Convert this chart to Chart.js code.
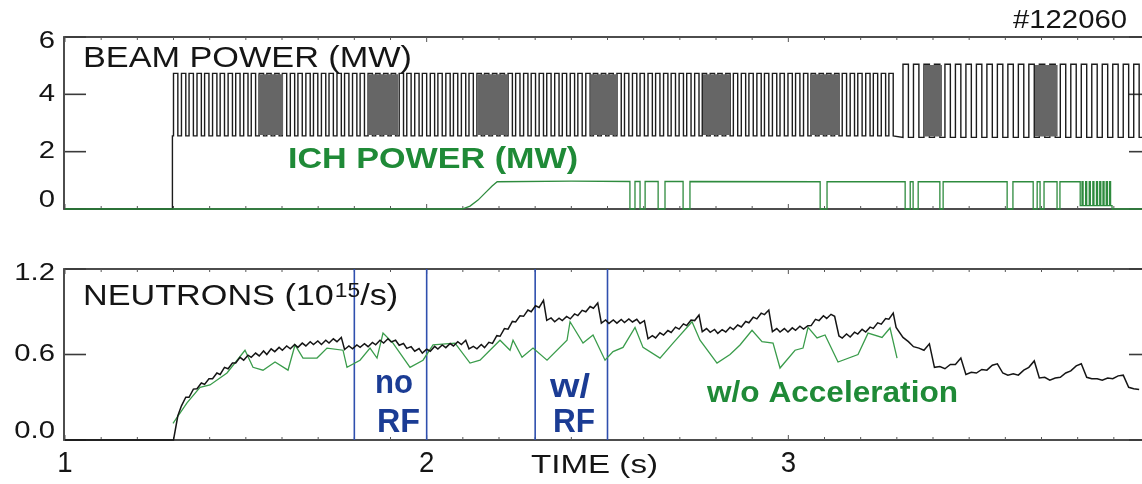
<!DOCTYPE html>
<html>
<head>
<meta charset="utf-8">
<script src="https://cdn.jsdelivr.net/npm/chart.js@4.4.1/dist/chart.umd.min.js"></script>
<style>
  html, body { margin: 0; padding: 0; background: #fff; overflow: hidden; width: 1142px; height: 484px; }
  #wrap { position: relative; width: 1142px; height: 484px; overflow: hidden; }
  canvas { position: absolute; left: 0; }
  #powerCanvas { top: 0; }
  #neutronCanvas { top: 240px; }
</style>
</head>
<body>
<div id="wrap">
  <canvas id="powerCanvas" width="1160" height="240"></canvas>
  <canvas id="neutronCanvas" width="1160" height="244"></canvas>
</div>
<script>
// ---------------- data ----------------
const shotLabel = '#122060';
const timeRange = [1, 4];
const timeTicks = [1, 2, 3, 4];
const powerTicks = [0, 2, 4, 6];
const powerTickLabels = ['0', '2', '4', '6'];
const neutronTicks = [0, 0.6, 1.2];
const neutronTickLabels = ['0.0', '0.6', '1.2'];

// Neutral beam: switch-on time, modulated pulses (rising edges, s), pulse width and levels (MW)
const beamStart = 1.297;
const beamOn1 = [
  1.300, 1.322, 1.343, 1.365, 1.386, 1.408, 1.429, 1.451, 1.472, 1.494,
  1.515, 1.537, 1.558, 1.580, 1.601, 1.623, 1.644, 1.666, 1.687, 1.709,
  1.730, 1.752, 1.773, 1.795, 1.816, 1.838, 1.859, 1.881, 1.902, 1.924,
  1.945, 1.967, 1.988, 2.010, 2.031, 2.053, 2.074, 2.096, 2.117, 2.139,
  2.160, 2.182, 2.203, 2.225, 2.246, 2.268, 2.289, 2.311, 2.332, 2.354,
  2.375, 2.397, 2.418, 2.440, 2.461, 2.483, 2.504, 2.526, 2.547, 2.569,
  2.590, 2.612, 2.633, 2.655, 2.676, 2.698, 2.719, 2.741, 2.762, 2.784,
  2.805, 2.827, 2.848, 2.870, 2.891, 2.913, 2.934, 2.956, 2.977, 2.999,
  3.020, 3.042, 3.063, 3.085, 3.106, 3.128, 3.149, 3.171, 3.192, 3.214,
  3.235, 3.257, 3.278
];
const beamWidth1 = 0.012;
const beamLevels1 = [2.55, 4.73];
const beamOn2 = [
  3.317, 3.346, 3.375, 3.404, 3.433, 3.462, 3.491, 3.520, 3.549, 3.578,
  3.607, 3.636, 3.665, 3.694, 3.723, 3.752, 3.781, 3.810, 3.839, 3.868,
  3.897, 3.926, 3.955
];
const beamWidth2 = 0.015;
const beamLevels2 = [2.5, 5.05];
const beamEnd = 3.99;
// intervals where the beam switching is too fast to resolve
const beamDense1 = [[1.534, 1.603], [1.838, 1.921], [2.142, 2.225], [2.452, 2.529], [2.764, 2.839], [3.060, 3.143]];
const beamDense2 = [[3.374, 3.425], [3.682, 3.745]];

// ICH power (MW)
const ichTime = [
  1.000, 2.098, 2.120, 2.142, 2.164, 2.181, 2.195, 2.400, 2.562,
  2.562, 2.576, 2.576,
  2.590, 2.590, 2.604, 2.604,
  2.640, 2.640, 2.659, 2.659,
  2.709, 2.709, 2.728, 2.728,
  3.088, 3.088, 3.107, 3.107,
  3.323, 3.323, 3.337, 3.337,
  3.345, 3.345, 3.359, 3.359,
  3.419, 3.419, 3.428, 3.428,
  3.605, 3.605, 3.621, 3.621,
  3.677, 3.677, 3.688, 3.688,
  3.696, 3.696, 3.707, 3.707,
  3.743, 3.743, 3.751, 3.751,
  3.807, 3.807,
  3.812, 3.812, 3.815, 3.815,
  3.822, 3.822, 3.825, 3.825,
  3.832, 3.832, 3.835, 3.835,
  3.842, 3.842, 3.845, 3.845,
  3.852, 3.852, 3.855, 3.855,
  3.861, 3.861, 3.864, 3.864,
  3.870, 3.870, 3.873, 3.873,
  3.879, 3.879, 3.882, 3.882,
  3.888, 3.888, 3.891, 3.891,
  3.895, 3.895, 3.990
];
const ichValue = [
  0, 0, 0.10, 0.31, 0.59, 0.80, 0.95, 0.97, 0.96,
  0, 0, 0.96,
  0.96, 0, 0, 0.96,
  0.96, 0, 0, 0.96,
  0.96, 0, 0, 0.96,
  0.95, 0, 0, 0.95,
  0.95, 0, 0, 0.95,
  0.95, 0, 0, 0.95,
  0.95, 0, 0, 0.95,
  0.95, 0, 0, 0.95,
  0.95, 0, 0, 0.95,
  0.95, 0, 0, 0.95,
  0.95, 0, 0, 0.95,
  0.95, 0.12,
  0.12, 0.95, 0.95, 0.12,
  0.12, 0.95, 0.95, 0.12,
  0.12, 0.95, 0.95, 0.12,
  0.12, 0.95, 0.95, 0.12,
  0.12, 0.95, 0.95, 0.12,
  0.12, 0.95, 0.95, 0.12,
  0.12, 0.95, 0.95, 0.12,
  0.12, 0.95, 0.95, 0.12,
  0.12, 0.95, 0.95, 0.12,
  0.12, 0, 0
];

// Measured neutron rate (1e15/s), sampled at each beam switch-on / switch-off
const neutronBefore = 0;
const neutron1 = [
  0.00, 0.17,  0.24, 0.30,  0.30, 0.357, 0.36, 0.40,  0.39, 0.43,
  0.43, 0.47,  0.46, 0.51,  0.50, 0.54,  0.54, 0.58,  0.56, 0.595,
  0.58, 0.61,  0.59, 0.625, 0.60, 0.64,  0.62, 0.65,  0.63, 0.66,
  0.64, 0.67,  0.65, 0.68,  0.66, 0.69,  0.67, 0.695, 0.67, 0.70,
  0.68, 0.71,  0.69, 0.72,  0.635, 0.66, 0.64, 0.667, 0.65, 0.676,
  0.655, 0.685, 0.668, 0.70, 0.68, 0.71, 0.688, 0.70, 0.665, 0.677,
  0.643, 0.655, 0.623, 0.642, 0.61, 0.637, 0.623, 0.657, 0.638, 0.667,
  0.648, 0.677, 0.66, 0.69, 0.67, 0.70,  0.64, 0.657, 0.64, 0.67,
  0.648, 0.685, 0.678, 0.732, 0.728, 0.782, 0.778, 0.832, 0.828, 0.872,
  0.868, 0.912, 0.90, 0.942, 0.93, 0.98,  0.84, 0.857, 0.83, 0.855,
  0.838, 0.867, 0.85, 0.885, 0.873, 0.91, 0.90, 0.937, 0.925, 0.962,
  0.82, 0.842, 0.818, 0.842, 0.82, 0.846, 0.824, 0.85, 0.828, 0.847,
  0.818, 0.837, 0.71, 0.732, 0.716, 0.752, 0.736, 0.768, 0.755, 0.792,
  0.778, 0.815, 0.803, 0.842, 0.838, 0.877, 0.76, 0.782, 0.756, 0.776,
  0.748, 0.774, 0.758, 0.792, 0.775, 0.807, 0.793, 0.832, 0.823, 0.862,
  0.85, 0.89,  0.88, 0.912, 0.76, 0.782, 0.758, 0.782, 0.758, 0.787,
  0.77, 0.798, 0.778, 0.802, 0.803, 0.847, 0.838, 0.872, 0.853, 0.882,
  0.868, 0.73, 0.715, 0.744, 0.723, 0.757, 0.743, 0.777, 0.758, 0.792,
  0.783, 0.822, 0.813, 0.852, 0.848, 0.89
];
const neutronAfterStep = [3.298, 0.79];
const neutron2 = [
  0.72, 0.69,  0.655, 0.645, 0.63, 0.675, 0.51, 0.515, 0.50, 0.53,
  0.53, 0.575, 0.46, 0.475, 0.47, 0.495, 0.49, 0.525, 0.535, 0.47,
  0.455, 0.465, 0.455, 0.49, 0.51, 0.555, 0.435, 0.44, 0.42, 0.435,
  0.44, 0.47, 0.485, 0.52, 0.535, 0.44, 0.43, 0.43, 0.42, 0.435,
  0.43, 0.45, 0.455, 0.37, 0.36, 0.355
];

// Simulated neutron rate without fast-ion acceleration
const noAccTime = [
  1.2986, 1.3373, 1.3733, 1.4009, 1.4479, 1.4977, 1.5198, 1.5475, 1.5807, 1.6166,
  1.6360, 1.6581, 1.6968, 1.7245, 1.7687, 1.7797, 1.8157, 1.8434, 1.8627, 1.8793,
  1.9069, 1.9540, 1.9899, 2.0176, 2.0784, 2.1199, 2.1475, 2.2028, 2.2305, 2.2388,
  2.2637, 2.2941, 2.3328, 2.3881, 2.3964, 2.4323, 2.4600, 2.4932, 2.5153, 2.5429,
  2.5761, 2.5982, 2.6452, 2.6812, 2.7337, 2.7558, 2.8028, 2.8388, 2.8664, 2.8996,
  2.9272, 2.9577, 2.9770, 3.0185, 3.0406, 3.0545, 3.0794, 3.1015, 3.1374, 3.1927,
  3.2204, 3.2591, 3.2812, 3.3006
];
const noAccValue = [
  0.117, 0.26, 0.37, 0.386, 0.47, 0.63, 0.51, 0.49, 0.547, 0.49,
  0.667, 0.575, 0.575, 0.645, 0.63, 0.51, 0.56, 0.645, 0.575, 0.75,
  0.68, 0.51, 0.56, 0.667, 0.68, 0.54, 0.56, 0.70, 0.63, 0.70,
  0.58, 0.645, 0.56, 0.70, 0.83, 0.68, 0.737, 0.56, 0.62, 0.65,
  0.79, 0.65, 0.575, 0.68, 0.83, 0.70, 0.54, 0.60, 0.667, 0.77,
  0.69, 0.68, 0.505, 0.63, 0.645, 0.79, 0.716, 0.737, 0.547, 0.60,
  0.75, 0.72, 0.786, 0.575
];

// RF on/off comparison windows (s)
const rfMarks = [1.8, 2.0, 2.3, 2.5];

// ---------------- styling ----------------
const FONT = '"Liberation Sans", Arial, Helvetica, sans-serif';
const INK = '#151515';
const FRAME = '#3a3a3a';
const GREEN_LINE = '#2e8b3e';
const GREEN_TEXT = '#1f8a37';
const GREEN_SIM = '#3a9c4b';
const BLUE_LINE = '#2f4fae';
const BLUE_TEXT = '#1b3c94';
const DENSE_GRAY = '#666666';

// ---------------- series builders ----------------
function beamPoints() {
  const pts = [{ x: timeRange[0], y: 0 }, { x: beamStart, y: 0 }, { x: beamStart, y: beamLevels1[0] }];
  const addPulses = (ons, width, levels) => {
    ons.forEach(t => {
      pts.push({ x: t, y: levels[0] }, { x: t, y: levels[1] },
               { x: t + width, y: levels[1] }, { x: t + width, y: levels[0] });
    });
  };
  addPulses(beamOn1, beamWidth1, beamLevels1);
  addPulses(beamOn2, beamWidth2, beamLevels2);
  pts.push({ x: beamEnd, y: beamLevels2[0] });
  return pts;
}

function neutronPoints() {
  const pts = [{ x: timeRange[0], y: neutronBefore }];
  beamOn1.forEach((t, k) => {
    pts.push({ x: t, y: neutron1[2 * k] }, { x: t + beamWidth1, y: neutron1[2 * k + 1] });
  });
  pts.push({ x: neutronAfterStep[0], y: neutronAfterStep[1] });
  beamOn2.forEach((t, k) => {
    pts.push({ x: t, y: neutron2[2 * k] }, { x: t + beamWidth2, y: neutron2[2 * k + 1] });
  });
  return pts;
}

const zip = (xs, ys) => xs.map((x, i) => ({ x, y: ys[i] }));

function denseDatasets(windows, levels) {
  return windows.map(w => ({
    data: [{ x: w[0], y: levels[1] - 0.03 }, { x: w[1], y: levels[1] - 0.03 }],
    borderWidth: 0,
    backgroundColor: DENSE_GRAY,
    fill: { value: levels[0] + 0.03 },
    clip: false
  }));
}

// ---------------- drawing helpers ----------------
function stretchText(ctx, str, x, y, font, color, opts) {
  ctx.save();
  ctx.font = font;
  ctx.fillStyle = color;
  ctx.textBaseline = opts.baseline || 'alphabetic';
  ctx.textAlign = 'left';
  const natural = ctx.measureText(str).width;
  const sx = opts.width ? opts.width / natural : (opts.sx || 1);
  const w = natural * sx;
  const left = opts.align === 'right' ? x - w : opts.align === 'center' ? x - w / 2 : x;
  ctx.translate(left, y);
  ctx.scale(sx, 1);
  ctx.fillText(str, 0, 0);
  ctx.restore();
  return left + w;
}

function seg(ctx, x1, y1, x2, y2) {
  ctx.beginPath(); ctx.moveTo(x1, y1); ctx.lineTo(x2, y2); ctx.stroke();
}

function drawFrame(chart, yTicks) {
  const { ctx, chartArea: a, scales: { x, y } } = chart;
  ctx.save();
  ctx.strokeStyle = FRAME;
  ctx.lineWidth = 1.8;
  ctx.strokeRect(a.left - 1, a.top, a.right - a.left + 1, a.bottom - a.top);
  ctx.lineWidth = 1.6;
  yTicks.forEach(v => {
    const py = y.getPixelForValue(v);
    seg(ctx, a.left, py, a.left + 21, py);
    seg(ctx, a.right - 21, py, a.right, py);
  });
  ctx.lineWidth = 1;
  ctx.strokeStyle = '#555';
  for (let i = timeRange[0] * 10; i <= timeRange[1] * 10; i++) {
    const px = x.getPixelForValue(i / 10);
    const len = i % 10 === 0 ? 5 : 3;
    seg(ctx, px, a.top, px, a.top + len);
    seg(ctx, px, a.bottom, px, a.bottom - len);
  }
  ctx.restore();
}

function drawYLabels(chart, values, labels) {
  const { ctx, chartArea: a, scales: { y } } = chart;
  values.forEach((v, i) => {
    let py = y.getPixelForValue(v);
    py = Math.min(Math.max(py, a.top + 4), a.bottom - 9);
    stretchText(ctx, labels[i], 55, py, '24px ' + FONT, INK, { sx: 1.22, align: 'right', baseline: 'middle' });
  });
}

function panelOptions(yMax, padding) {
  return {
    responsive: false,
    animation: false,
    devicePixelRatio: 1,
    layout: { padding },
    elements: { point: { radius: 0 }, line: { tension: 0 } },
    scales: {
      x: { type: 'linear', min: timeRange[0], max: timeRange[1], display: false },
      y: { type: 'linear', min: 0, max: yMax, display: false }
    },
    plugins: { legend: { display: false }, tooltip: { enabled: false } }
  };
}

// ---------------- power panel ----------------
const powerDecor = {
  id: 'powerDecor',
  beforeDatasetsDraw(chart) { drawFrame(chart, powerTicks); },
  afterDatasetsDraw(chart) {
    const ctx = chart.ctx;
    drawYLabels(chart, powerTicks, powerTickLabels);
    stretchText(ctx, shotLabel, 1013, 28, '25px ' + FONT, INK, { width: 114 });
    stretchText(ctx, 'BEAM POWER (MW)', 83, 67, '30px ' + FONT, INK, { width: 329 });
    stretchText(ctx, 'ICH POWER (MW)', 288, 168, 'bold 30px ' + FONT, GREEN_TEXT, { width: 290 });
  }
};

new Chart(document.getElementById('powerCanvas'), {
  type: 'line',
  data: {
    datasets: [
      { data: zip(ichTime, ichValue), borderColor: GREEN_LINE, borderWidth: 1.3, fill: false, clip: false },
      ...denseDatasets(beamDense1, beamLevels1),
      ...denseDatasets(beamDense2, beamLevels2),
      { data: beamPoints(), borderColor: '#1c1c1c', borderWidth: 1.4, fill: false, clip: false }
    ]
  },
  options: panelOptions(6, { left: 65, right: 10, top: 37, bottom: 31 }),
  plugins: [powerDecor]
});

// ---------------- neutron panel ----------------
const neutronDecor = {
  id: 'neutronDecor',
  beforeDatasetsDraw(chart) { drawFrame(chart, neutronTicks); },
  afterDatasetsDraw(chart) {
    const ctx = chart.ctx;
    const x = chart.scales.x;
    drawYLabels(chart, neutronTicks, neutronTickLabels);
    timeTicks.forEach(t => {
      stretchText(ctx, String(t), x.getPixelForValue(t), 232, '30px ' + FONT, INK, { sx: 0.92, align: 'center' });
    });
    stretchText(ctx, 'TIME (s)', 531, 233, '26px ' + FONT, INK, { width: 127 });
    let end = stretchText(ctx, 'NEUTRONS (10', 83, 65, '30px ' + FONT, INK, { sx: 1.14 });
    end = stretchText(ctx, '15', end + 1, 57, '20px ' + FONT, INK, { sx: 1.14 });
    stretchText(ctx, '/s)', end, 65, '30px ' + FONT, INK, { sx: 1.14 });
    const bold34 = 'bold 34px ' + FONT;
    stretchText(ctx, 'no', 375, 153, bold34, BLUE_TEXT, { width: 38 });
    stretchText(ctx, 'RF', 377, 192, bold34, BLUE_TEXT, { width: 43 });
    stretchText(ctx, 'w/', 550, 157, bold34, BLUE_TEXT, { width: 40 });
    stretchText(ctx, 'RF', 553, 192, bold34, BLUE_TEXT, { width: 42 });
    stretchText(ctx, 'w/o Acceleration', 707, 162, 'bold 30px ' + FONT, GREEN_TEXT, { width: 251 });
  }
};

new Chart(document.getElementById('neutronCanvas'), {
  type: 'line',
  data: {
    datasets: [
      { data: neutronPoints(), borderColor: INK, borderWidth: 1.5, fill: false, clip: false },
      { data: zip(noAccTime, noAccValue), borderColor: GREEN_SIM, borderWidth: 1.3, fill: false, clip: false },
      ...rfMarks.map(t => ({
        data: [{ x: t, y: 0 }, { x: t, y: 1.2 }],
        borderColor: BLUE_LINE, borderWidth: 1.6, fill: false, clip: false
      }))
    ]
  },
  options: panelOptions(1.2, { left: 65, right: 10, top: 29, bottom: 44 }),
  plugins: [neutronDecor]
});
</script>
</body>
</html>
